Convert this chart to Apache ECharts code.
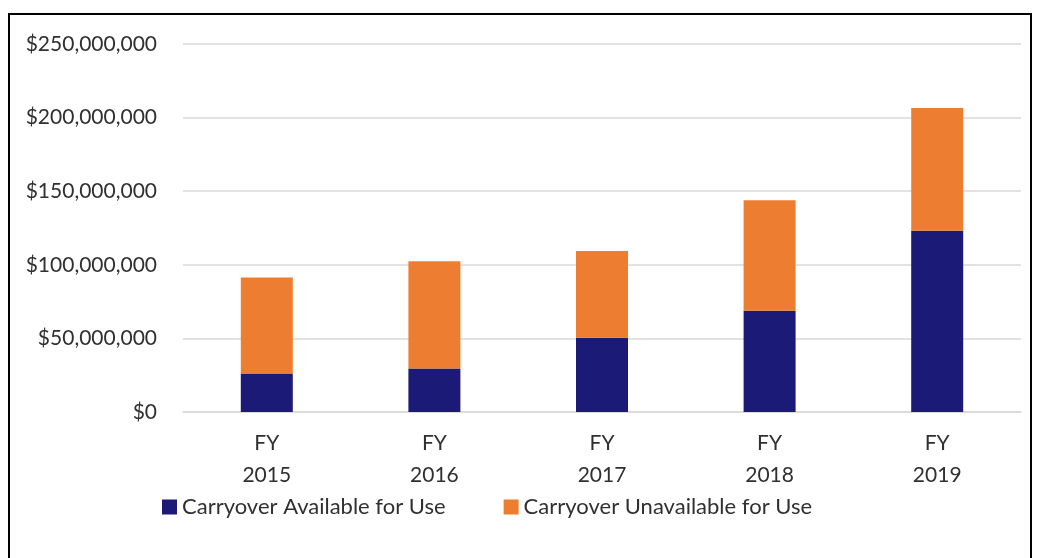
<!DOCTYPE html>
<html><head><meta charset="utf-8">
<script src="https://cdn.jsdelivr.net/npm/echarts@6/dist/echarts.min.js"></script>
<style>
html,body{margin:0;padding:0;background:#fff;overflow:hidden;}
#frame{position:absolute;left:8px;top:13px;width:1024px;height:600px;border:2px solid #000;box-sizing:border-box;}
#chart{position:absolute;left:0;top:0;width:1038px;height:558px;}
</style></head>
<body>
<div id="frame"></div>
<div id="chart"></div>
<script>
const categories = ['FY\n2015','FY\n2016','FY\n2017','FY\n2018','FY\n2019'];
const availableForUse = [26100000, 29500000, 50500000, 68800000, 123100000];
const unavailableForUse = [65200000, 72900000, 58900000, 75100000, 83500000];
const seriesNames = ['Carryover Available for Use','Carryover Unavailable for Use'];

const font = 'Lato';
const fs = 21;
const txt = '#303030';
const chart = echarts.init(document.getElementById('chart'), null, {renderer:'canvas'});
function fmt(v){ return '$' + Math.round(v).toString().replace(/\B(?=(\d{3})+(?!\d))/g, ','); }
chart.setOption({
  animation:false,
  backgroundColor:'transparent',
  textStyle:{fontFamily:font},
  grid:{left:183, right:17, top:44, bottom:146, containLabel:false},
  legend:{
    left:157, top:491, itemWidth:15, itemHeight:15, itemGap:58,
    icon:'rect',
    textStyle:{fontSize:22, color:txt, fontFamily:font},
    data:seriesNames
  },
  xAxis:{
    type:'category', data:categories,
    axisLine:{lineStyle:{color:'#d9d9d9', width:1.5}},
    axisTick:{show:false},
    axisLabel:{fontSize:fs, color:txt, lineHeight:32, margin:15, fontFamily:font}
  },
  yAxis:{
    type:'value', min:0, max:250000000, interval:50000000,
    axisLine:{show:false}, axisTick:{show:false},
    splitLine:{lineStyle:{color:'#d9d9d9', width:1.5}},
    axisLabel:{fontSize:fs, color:txt, margin:26, formatter:fmt, fontFamily:font}
  },
  series:[
    {name:seriesNames[0], type:'bar', stack:'t', data:availableForUse, barWidth:52,
     itemStyle:{color:'#1b1a77'}},
    {name:seriesNames[1], type:'bar', stack:'t', data:unavailableForUse, barWidth:52,
     itemStyle:{color:'#ed7d31'}}
  ]
});
</script>
</body></html>
